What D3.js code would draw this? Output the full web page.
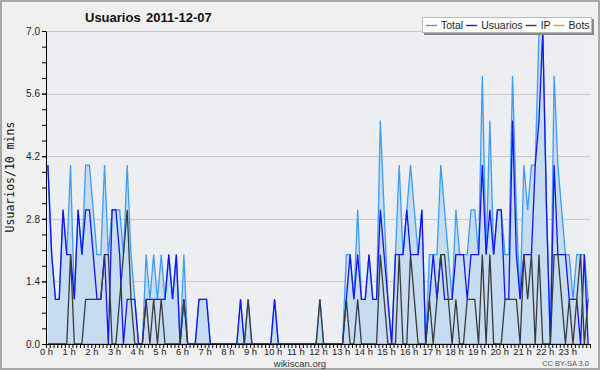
<!DOCTYPE html>
<html>
<head>
<meta charset="utf-8">
<script src="https://cdn.jsdelivr.net/npm/d3@7"></script>
<style>
  body { margin: 0; background: #fff; }
  svg { display: block; font-family: "Liberation Sans", Arial, sans-serif; }
</style>
</head>
<body>
<svg id="chart" width="600" height="370"></svg>
<script>
/*** DATA: editors per 10 minutes, 2011-12-07 ***/
var hourLabels = ['0 h','1 h','2 h','3 h','4 h','5 h','6 h','7 h','8 h','9 h','10 h','11 h',
  '12 h','13 h','14 h','15 h','16 h','17 h','18 h','19 h','20 h','21 h','22 h','23 h'];
var yTicks = [0, 1.4, 2.8, 4.2, 5.6, 7.0];
var seriesNames = ['Total', 'Usuarios', 'IP', 'Bots'];
var seriesColors = ['#3d9df2', '#1414f0', '#3a3a3a', '#ff9900'];

var total = [
  4,2,1,1,3,2,4,1,3,2,4,4,  3,2,2,4,2,3,3,3,2,4,2,1,
  0,0,2,1,2,1,2,1,2,1,2,0,  2,0,0,0,1,1,1,0,0,0,0,0,
  0,0,0,1,0,1,0,0,0,0,0,0,  1,0,0,0,0,0,0,0,0,0,0,0,
  1,0,0,0,0,0,0,2,2,1,3,1,  1,2,1,1,5,3,1,0,2,4,2,3,
  4,3,2,3,0,2,2,2,4,3,2,1,  3,2,2,2,3,3,2,6,2,5,2,3,
  3,2,2,6,3,1,4,3,4,4,7,7,  3,0,6,4,3,2,2,1,2,2,2,1
];
var usuarios = [
  4,2,1,1,3,2,2,1,3,2,3,3,  2,1,1,2,0,3,3,2,0,1,1,1,
  0,0,1,1,1,1,1,1,2,1,2,0,  1,0,0,0,1,1,1,0,0,0,0,0,
  0,0,0,1,0,0,0,0,0,0,0,0,  1,0,0,0,0,0,0,0,0,0,0,0,
  0,0,0,0,0,0,0,1,2,1,2,1,  1,2,1,1,3,2,1,0,2,2,2,3,
  2,2,2,3,0,1,2,1,2,1,1,1,  2,2,2,1,2,2,2,4,2,3,2,3,
  3,1,1,5,2,1,2,2,2,4,5,7,  3,0,4,2,2,2,1,1,1,0,2,0
];
var ip = [
  0,0,0,0,0,0,2,0,0,0,1,1,  1,1,1,2,2,0,0,1,2,3,1,0,
  0,0,1,0,1,0,1,0,0,0,0,0,  1,0,0,0,0,0,0,0,0,0,0,0,
  0,0,0,0,0,1,0,0,0,0,0,0,  0,0,0,0,0,0,0,0,0,0,0,0,
  1,0,0,0,0,0,0,1,0,0,1,0,  0,0,0,0,2,1,0,0,0,2,0,0,
  2,1,0,0,0,1,0,1,2,2,1,0,  1,0,0,1,1,1,0,2,0,2,0,0,
  0,1,1,1,1,0,2,1,2,0,2,0,  0,0,2,2,1,0,1,0,1,2,0,1
];
var bots = [
  0,0,0,0,0,0,0,0,0,0,0,0,  0,0,0,0,0,0,0,0,0,0,0,0,
  0,0,0,0,0,0,0,0,0,0,0,0,  0,0,0,0,0,0,0,0,0,0,0,0,
  0,0,0,0,0,0,0,0,0,0,0,0,  0,0,0,0,0,0,0,0,0,0,0,0,
  0,0,0,0,0,0,0,0,0,0,0,0,  0,0,0,0,0,0,0,0,0,0,0,0,
  0,0,0,0,0,0,0,0,0,0,0,0,  0,0,0,0,0,0,0,0,0,0,0,0,
  0,0,0,0,0,0,0,0,0,0,0,0,  0,0,0,0,0,0,0,0,0,0,0,0
];

/*** LAYOUT ***/
var plot = { left: 46, top: 31, right: 590, bottom: 344 };
var svg = d3.select('#chart');

var x = d3.scaleLinear().domain([0, 144]).range([plot.left, plot.right]);
var y = d3.scaleLinear().domain([0, 7]).range([plot.bottom, plot.top]);

//frame + plot background
svg.append('rect')
  .attr('x', 1).attr('y', 1).attr('width', 598).attr('height', 368)
  .attr('fill', '#f0f0f0').attr('stroke', '#a8a8a8').attr('stroke-width', 2);
svg.append('rect')
  .attr('x', plot.left).attr('y', plot.top)
  .attr('width', plot.right - plot.left).attr('height', plot.bottom - plot.top)
  .attr('fill', '#eceef1');

//grid lines
svg.append('g').selectAll('line')
  .data(yTicks.filter(function(d) { return d > 0; }))
  .join('line')
  .attr('x1', plot.left).attr('x2', plot.right)
  .attr('y1', function(d) { return Math.round(y(d)) + 0.5; })
  .attr('y2', function(d) { return Math.round(y(d)) + 0.5; })
  .attr('stroke', '#c9c9c9');

/*** SERIES ***/
function px(d, i) { return x(i + 0.5); }

var area = d3.area().x(px).y0(y(0)).y1(function(d) { return y(d); });
svg.append('path')
  .datum(total)
  .attr('d', area)
  .attr('fill', '#c6dcf0');

var line = d3.line().x(px).y(function(d) { return y(d); });
[bots, total, usuarios, ip].forEach(function(s, k) {
  var idx = [3, 0, 1, 2][k];
  svg.append('path')
    .datum(s)
    .attr('d', line)
    .attr('fill', 'none')
    .attr('stroke', seriesColors[idx])
    .attr('stroke-width', 1.3)
    .attr('stroke-linejoin', 'miter');
});

/*** AXES ***/
var minor = d3.range(0, 21).map(function(k) { return k * 0.35; });
svg.append('g')
  .attr('transform', 'translate(' + plot.left + ',0)')
  .call(d3.axisLeft(y).tickValues(minor).tickSize(4).tickSizeOuter(0).tickFormat(''))
  .call(function(g) { g.selectAll('line, path').attr('stroke', '#000'); });
svg.append('g')
  .attr('class', 'y-labels')
  .attr('transform', 'translate(' + plot.left + ',0)')
  .call(d3.axisLeft(y).tickValues(yTicks).tickSize(4).tickSizeOuter(0).tickPadding(2).tickFormat(d3.format('.1f')))
  .call(function(g) {
    g.select('.domain').remove();
    g.selectAll('line').attr('stroke', '#000');
    g.selectAll('text').attr('font-size', 10).attr('fill', '#222')
      .attr('font-family', '"Liberation Sans", Arial, sans-serif');
  });

svg.append('g')
  .attr('transform', 'translate(0,' + plot.bottom + ')')
  .call(d3.axisBottom(x).tickValues(d3.range(0, 145)).tickSize(4).tickSizeOuter(0).tickPadding(0)
    .tickFormat(function(d) { return (d % 6 === 0 && d < 144) ? hourLabels[d / 6] : ''; }))
  .call(function(g) {
    g.selectAll('line, path').attr('stroke', '#000');
    g.selectAll('text').attr('font-size', 9.5).attr('fill', '#222')
      .attr('font-family', '"Liberation Sans", Arial, sans-serif');
  });

/*** TEXTS ***/
svg.append('text')
  .attr('x', 85).attr('y', 22)
  .attr('font-size', 13).attr('font-weight', 'bold').attr('fill', '#111')
  .text('Usuarios');
svg.append('text')
  .attr('x', 146).attr('y', 22)
  .attr('font-size', 13).attr('font-weight', 'bold').attr('fill', '#111')
  .text('2011-12-07');

svg.append('text')
  .attr('transform', 'translate(14,177) rotate(-90)')
  .attr('text-anchor', 'middle')
  .attr('font-family', '"DejaVu Sans Mono", monospace')
  .attr('font-size', 11.5).attr('fill', '#111')
  .text('Usuarios/10 mins');

svg.append('text')
  .attr('x', 300).attr('y', 366.5).attr('text-anchor', 'middle')
  .attr('font-size', 9.5).attr('fill', '#333')
  .text('wikiscan.org');
svg.append('text')
  .attr('x', 589).attr('y', 366).attr('text-anchor', 'end')
  .attr('font-size', 7.5).attr('fill', '#555')
  .text('CC BY-SA 3.0');

/*** LEGEND ***/
var legend = svg.append('g');
legend.append('rect')
  .attr('x', 424).attr('y', 19).attr('width', 170).attr('height', 16)
  .attr('fill', '#888');
legend.append('rect')
  .attr('x', 422.5).attr('y', 17.5).attr('width', 169).attr('height', 15)
  .attr('fill', '#fff').attr('stroke', '#bbb');

var lx = 426;
seriesNames.forEach(function(name, k) {
  legend.append('line')
    .attr('x1', lx).attr('x2', lx + 11)
    .attr('y1', 25.5).attr('y2', 25.5)
    .attr('stroke', seriesColors[k]).attr('stroke-width', 1.4);
  var t = legend.append('text')
    .attr('x', lx + 15).attr('y', 29)
    .attr('font-size', 10.5).attr('fill', '#222')
    .text(name);
  lx += 15 + t.node().getComputedTextLength() + 3;
});
</script>
</body>
</html>
